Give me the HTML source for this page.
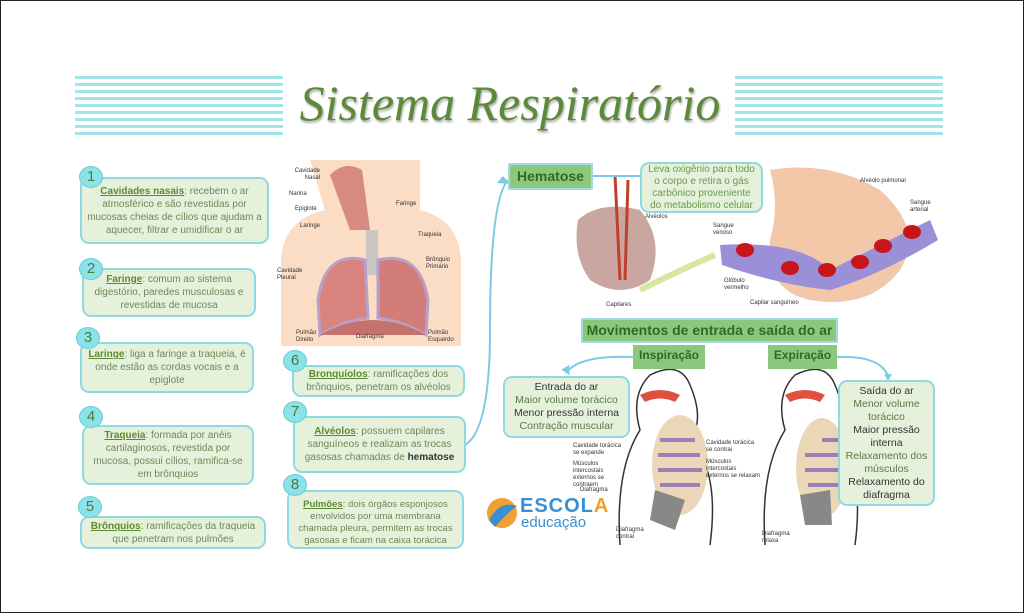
<!DOCTYPE html>
<html><head><meta charset="utf-8"><style>
*{margin:0;padding:0;box-sizing:border-box}
body{width:1024px;height:613px;background:#fff;position:relative;overflow:hidden;font-family:"Liberation Sans",sans-serif}
#frame{position:absolute;left:0;top:0;width:1024px;height:613px;border:1px solid #222}
.b{position:absolute;background:#e6f1dc;border:2px solid #8fd9e2;border-radius:9px;color:#6b8a55;font-size:10px;line-height:13px;text-align:center;display:flex;align-items:center;justify-content:center;padding:2px 4px}
.b u{color:#5d8a2e;font-weight:bold}
.n{position:absolute;width:24px;height:22px;border-radius:50%;background:#8ae3ea;border:1px solid #6fc9d3;color:#4d7a3a;font-size:15px;text-align:center;line-height:20px}
.g{position:absolute;background:#8cc87c;border:2px solid #9fdce3;color:#2f6a25;font-weight:bold;text-align:center;white-space:nowrap}
.s{position:absolute;font-size:6px;color:#333;line-height:7px}
</style></head><body>
<svg width="1024" height="613" style="position:absolute;left:0;top:0">
<g fill="#9fe6ea">
<rect x="75" y="76" width="208" height="3"/><rect x="75" y="83" width="208" height="3"/><rect x="75" y="90" width="208" height="3"/><rect x="75" y="97" width="208" height="3"/><rect x="75" y="104" width="208" height="3"/><rect x="75" y="111" width="208" height="3"/><rect x="75" y="118" width="208" height="3"/><rect x="75" y="125" width="208" height="3"/><rect x="75" y="132" width="208" height="3"/>
<rect x="735" y="76" width="208" height="3"/><rect x="735" y="83" width="208" height="3"/><rect x="735" y="90" width="208" height="3"/><rect x="735" y="97" width="208" height="3"/><rect x="735" y="104" width="208" height="3"/><rect x="735" y="111" width="208" height="3"/><rect x="735" y="118" width="208" height="3"/><rect x="735" y="125" width="208" height="3"/><rect x="735" y="132" width="208" height="3"/>
</g>
<rect x="281" y="160" width="180" height="186" fill="#fff"/>
<path d="M310 160 H420 V210 Q460 220 461 262 V346 H281 V262 Q282 220 325 210 Z" fill="#fbdcc5"/>
<path d="M330 175 Q345 160 362 170 L370 230 H350 Z" fill="#d98a80"/>
<rect x="366" y="230" width="12" height="45" fill="#c9c6c4"/>
<path d="M365 260 Q325 250 318 300 L320 335 Q345 320 368 318 Z" fill="#d9837f" stroke="#b8a0c8" stroke-width="3"/>
<path d="M378 260 Q420 250 428 300 L426 335 Q400 320 378 318 Z" fill="#d27d79" stroke="#b8a0c8" stroke-width="3"/>
<path d="M320 335 Q372 305 426 335 Z" fill="#c5716c"/>
<path d="M770 170 Q830 160 880 190 Q925 230 900 270 Q870 310 810 300 Q765 290 770 240 Q780 205 770 170Z" fill="#f3c8a8"/>
<path d="M720 245 Q800 240 830 270 Q870 250 930 220 L938 240 Q880 275 830 290 Q780 285 722 265 Z" fill="#9b8fd8"/>
<g fill="#c8151c"><ellipse cx="745" cy="250" rx="9" ry="7"/><ellipse cx="790" cy="268" rx="9" ry="7"/><ellipse cx="827" cy="270" rx="9" ry="7"/><ellipse cx="860" cy="262" rx="9" ry="7"/><ellipse cx="883" cy="246" rx="9" ry="7"/><ellipse cx="912" cy="232" rx="9" ry="7"/></g>
<path d="M578 220 Q600 200 640 210 Q665 240 650 280 Q620 300 590 280 Q572 255 578 220Z" fill="#c9a7a0"/>
<path d="M615 175 L620 280 M628 180 L625 280" stroke="#c04030" stroke-width="3" fill="none"/>
<path d="M640 290 Q680 270 715 255" stroke="#d8e6a0" stroke-width="6" fill="none"/>
<g fill="none" stroke="#7ec9e6" stroke-width="2">
<path d="M465 445 Q490 430 490 330 Q490 200 508 180"/>
<path d="M592 176 H640"/>
<path d="M633 357 Q580 355 567 372"/>
<path d="M836 357 Q880 355 888 376"/>
</g>
<g fill="#7ec9e6"><path d="M503 176 L510 184 L497 183Z"/><path d="M563 375 L572 371 L563 366Z" transform="rotate(60 567 371)"/><path d="M884 378 L892 378 L888 371Z" transform="rotate(180 888 376)"/></g>
<g fill="none" stroke="#333" stroke-width="1.5">
<path d="M620 545 Q615 470 640 430 Q630 395 650 375 Q680 360 690 385 Q705 420 690 440 Q720 470 710 545"/>
<path d="M765 545 Q760 470 785 430 Q775 395 795 375 Q825 360 835 385 Q850 420 835 440 Q865 470 855 545"/>
</g>
<g fill="#ecd6b8"><ellipse cx="680" cy="465" rx="28" ry="50"/><ellipse cx="822" cy="468" rx="26" ry="50"/></g>
<g stroke="#9a80b5" stroke-width="4"><path d="M660 440H695M658 455H700M658 470H702M660 485H700M822 440H840M805 455H842M805 470H842M808 485H840"/></g>
<g fill="#e05040"><path d="M640 395 Q660 385 680 395 L675 402 Q660 395 645 402Z"/><path d="M785 395 Q805 385 825 395 L820 402 Q805 395 790 402Z"/></g>
<g fill="#888"><path d="M655 490 L685 500 L675 530 L650 520Z"/><path d="M800 495 L830 490 L832 525 L805 525Z"/></g>
<circle cx="502" cy="513" r="15" fill="#f0a030"/><path d="M489 520 Q500 500 517 506 Q505 515 495 527Z" fill="#3a8fd0"/>
</svg>
<div id="frame"></div>
<div style="position:absolute;left:290px;top:74px;width:440px;text-align:center;white-space:nowrap;font-family:'Liberation Serif',serif;font-style:italic;font-size:50px;color:#5a8a3a;text-shadow:1px 2px 2px #aaa">Sistema Respiratório</div>

<div class="b" style="left:80px;top:177px;width:189px;height:67px"><div><u>Cavidades nasais</u>: recebem o ar atmosférico e são revestidas por mucosas cheias de cílios que ajudam a aquecer, filtrar e umidificar o ar</div></div>
<div class="b" style="left:82px;top:268px;width:174px;height:49px"><div><u>Faringe</u>: comum ao sistema digestório, paredes musculosas e revestidas de mucosa</div></div>
<div class="b" style="left:80px;top:342px;width:174px;height:51px"><div><u>Laringe</u>: liga a faringe a traqueia, é onde estão as cordas vocais e a epiglote</div></div>
<div class="b" style="left:82px;top:425px;width:172px;height:60px"><div><u>Traqueia</u>: formada por anéis cartilaginosos, revestida por mucosa, possui cílios, ramifica-se em brônquios</div></div>
<div class="b" style="left:80px;top:516px;width:186px;height:33px"><div><u>Brônquios</u>: ramificações da traqueia que penetram nos pulmões</div></div>
<div class="b" style="left:292px;top:365px;width:173px;height:32px"><div><u>Bronquíolos</u>: ramificações dos brônquios, penetram os alvéolos</div></div>
<div class="b" style="left:293px;top:416px;width:173px;height:57px"><div><u>Alvéolos</u>: possuem capilares sanguíneos e realizam as trocas gasosas chamadas de <b style="color:#333">hematose</b></div></div>
<div class="b" style="left:287px;top:490px;width:177px;height:59px;font-size:9.5px;line-height:12px;padding-top:8px"><div><u>Pulmões</u>: dois órgãos esponjosos envolvidos por uma membrana chamada pleura, permitem as trocas gasosas e ficam na caixa torácica</div></div>
<div class="n" style="left:79px;top:166px">1</div><div class="n" style="left:79px;top:258px">2</div><div class="n" style="left:76px;top:327px">3</div><div class="n" style="left:79px;top:406px">4</div><div class="n" style="left:78px;top:496px">5</div><div class="n" style="left:283px;top:350px">6</div><div class="n" style="left:283px;top:401px">7</div><div class="n" style="left:283px;top:474px">8</div>

<div class="s" style="left:288px;top:168px;text-align:right;width:32px">Cavidade Nasal</div>
<div class="s" style="left:289px;top:191px">Narina</div><div class="s" style="left:295px;top:206px">Epiglote</div><div class="s" style="left:300px;top:223px">Laringe</div>
<div class="s" style="left:396px;top:201px">Faringe</div><div class="s" style="left:418px;top:232px">Traqueia</div>
<div class="s" style="left:426px;top:257px;width:30px">Brônquio Primário</div><div class="s" style="left:277px;top:268px;width:30px">Cavidade Pleural</div>
<div class="s" style="left:296px;top:330px;width:28px">Pulmão Direito</div><div class="s" style="left:356px;top:334px">Diafragma</div><div class="s" style="left:428px;top:330px;width:30px">Pulmão Esquerdo</div>

<div class="g" style="left:508px;top:163px;width:85px;height:27px;font-size:14px;line-height:23px">Hematose</div>
<div class="b" style="left:640px;top:162px;width:123px;height:51px;font-size:10px;line-height:12px;color:#6b9a4a">Leva oxigênio para todo o corpo e retira o gás carbônico proveniente do metabolismo celular</div>
<div class="s" style="left:645px;top:214px">Alvéolos</div><div class="s" style="left:606px;top:302px">Capilares</div>
<div class="s" style="left:713px;top:223px;width:30px">Sangue venoso</div><div class="s" style="left:724px;top:278px;width:28px">Glóbulo vermelho</div>
<div class="s" style="left:750px;top:300px">Capilar sanguíneo</div><div class="s" style="left:860px;top:178px">Alvéolo pulmonar</div><div class="s" style="left:910px;top:200px;width:30px">Sangue arterial</div>

<div class="g" style="left:581px;top:318px;width:257px;height:25px;font-size:14px;line-height:21px">Movimentos de entrada e saída do ar</div>
<div class="g" style="left:633px;top:345px;width:72px;height:24px;font-size:12px;line-height:20px;border:none">Inspiração</div>
<div class="g" style="left:768px;top:345px;width:69px;height:24px;font-size:12px;line-height:20px;border:none">Expiração</div>
<div class="b" style="left:503px;top:376px;width:127px;height:62px;font-size:10.5px;color:#5a7a45"><div><span style="color:#333">Entrada do ar</span><br>Maior volume torácico<br><span style="color:#333">Menor pressão interna</span><br>Contração muscular</div></div>
<div class="b" style="left:838px;top:380px;width:97px;height:126px;font-size:10.5px;color:#5a7a45"><div><span style="color:#333">Saída do ar</span><br>Menor volume torácico<br><span style="color:#333">Maior pressão interna</span><br>Relaxamento dos músculos<br><span style="color:#333">Relaxamento do diafragma</span></div></div>
<div class="s" style="left:573px;top:443px;width:55px">Cavidade torácica se expande</div><div class="s" style="left:573px;top:461px;width:55px">Músculos intercostais externos se contraem</div><div class="s" style="left:580px;top:487px">Diafragma</div><div class="s" style="left:616px;top:527px;width:25px">Diafragma contrai</div>
<div class="s" style="left:706px;top:440px;width:55px">Cavidade torácica se contrai</div><div class="s" style="left:706px;top:459px;width:55px">Músculos intercostais externos se relaxam</div><div class="s" style="left:762px;top:531px;width:25px">Diafragma relaxa</div>
<div style="position:absolute;left:520px;top:495px;font-size:20px;font-weight:bold;color:#3a8fd0;letter-spacing:1px">ESCOL<span style="color:#f0a030">A</span></div>
<div style="position:absolute;left:521px;top:514px;font-size:15px;color:#3a8fd0">educação</div>
</body></html>
